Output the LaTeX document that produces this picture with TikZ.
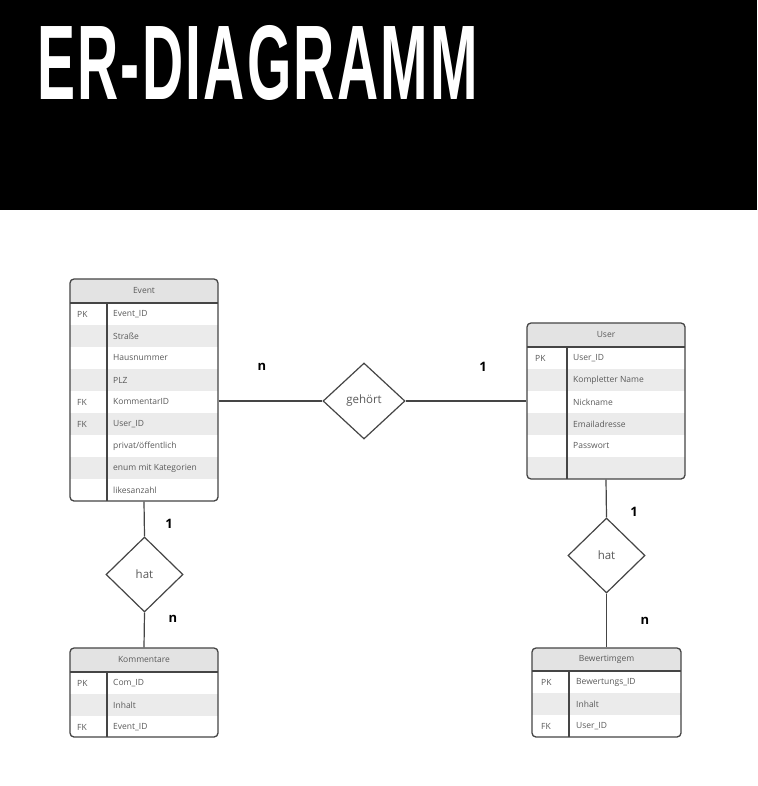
\documentclass[tikz,border=0pt]{standalone}
\usepackage{fontspec}
\setmainfont{Open Sans}
\newfontfamily\titlefont[LetterSpace=4]{Liberation Sans}
\usepackage{graphicx}
\usepackage{xcolor}
\usetikzlibrary{shapes.geometric}

\definecolor{linegray}{HTML}{454545}
\definecolor{headgray}{HTML}{E3E3E3}
\definecolor{rowgray}{HTML}{EBEBEB}
\definecolor{textgray}{HTML}{5A5A5A}

\tikzset{
  tablebox/.style={draw=linegray, line width=1.3, rounded corners=4, inner sep=0},
  tabline/.style={linegray, line width=1.3},
  headtext/.style={text=textgray, font=\fontsize{8.5}{10}\selectfont, inner sep=0},
  celltext/.style={anchor=west, text=textgray, font=\fontsize{8.5}{10}\selectfont, inner sep=0},
  relation/.style={diamond, draw=linegray, line width=1.2, text=textgray, font=\fontsize{11.5}{13}\selectfont, inner sep=0},
  conn/.style={linegray, line width=1.2},
  card/.style={font=\bfseries\fontsize{13}{15}\selectfont, inner sep=0}
}

\begin{document}
\begin{tikzpicture}[x=1pt,y=-1pt]
        \useasboundingbox (0,0) rectangle (757,786);
        \fill[white] (0,0) rectangle (757,786);

        % title band
        \fill[black] (0,0) rectangle (757,210);
        \node[anchor=south west, inner sep=0, text=white] (title) at (37,101)
            {\resizebox{441pt}{74pt}{\titlefont\bfseries ER-DIAGRAMM}};

        % Event
        \begin{scope}
            \clip[rounded corners=4] (70,279) rectangle (218,501);
            \fill[headgray] (70,279) rectangle (218,303);
            \foreach \r in {1,3,5,7}
                \fill[rowgray] (70,303+22*\r) rectangle (218,325+22*\r);
        \end{scope}
        \node[tablebox, minimum width=148, minimum height=222] (event) at (144,390) {};
        \draw[tabline] (70,303) -- (218,303);
        \draw[tabline] (107,303) -- (107,501);
        \node[headtext] (event-head) at (144,291) {Event};
        \foreach \k/\f [count=\i] in {PK/Event\_ID, /Straße, /Hausnummer, /PLZ,
            FK/KommentarID, FK/User\_ID, /{privat/öffentlich},
            /enum mit Kategorien, /likesanzahl}
        {
            \node[celltext] (event-k\i) at (77,292+22*\i) {\k};
            \node[celltext] (event-f\i) at (113,292+22*\i) {\f};
        }

        % User
        \begin{scope}
            \clip[rounded corners=4] (527,323) rectangle (685,479);
            \fill[headgray] (527,323) rectangle (685,347);
            \foreach \r in {1,3,5}
                \fill[rowgray] (527,347+22*\r) rectangle (685,369+22*\r);
        \end{scope}
        \node[tablebox, minimum width=158, minimum height=156] (user) at (606,401) {};
        \draw[tabline] (527,347) -- (685,347);
        \draw[tabline] (567,347) -- (567,479);
        \node[headtext] (user-head) at (606,335) {User};
        \foreach \k/\f [count=\i] in {PK/User\_ID, /Kompletter Name, /Nickname,
            /Emailadresse, /Passwort, /}
        {
            \node[celltext] (user-k\i) at (535,336+22*\i) {\k};
            \node[celltext] (user-f\i) at (573,336+22*\i) {\f};
        }

        % Kommentare
        \begin{scope}
            \clip[rounded corners=4] (70,648) rectangle (218,737);
            \fill[headgray] (70,648) rectangle (218,672);
            \fill[rowgray] (70,694) rectangle (218,716);
        \end{scope}
        \node[tablebox, minimum width=148, minimum height=89] (komm) at (144,692.5) {};
        \draw[tabline] (70,672) -- (218,672);
        \draw[tabline] (107,672) -- (107,737);
        \node[headtext] (komm-head) at (144,660) {Kommentare};
        \foreach \k/\f [count=\i] in {PK/Com\_ID, /Inhalt, FK/Event\_ID}
        {
            \node[celltext] (komm-k\i) at (77,661+22*\i) {\k};
            \node[celltext] (komm-f\i) at (113,661+22*\i) {\f};
        }

        % Bewertimgem
        \begin{scope}
            \clip[rounded corners=4] (532,648) rectangle (681,737);
            \fill[headgray] (532,648) rectangle (681,671);
            \fill[rowgray] (532,693) rectangle (681,715);
        \end{scope}
        \node[tablebox, minimum width=149, minimum height=89] (bew) at (606.5,692.5) {};
        \draw[tabline] (532,671) -- (681,671);
        \draw[tabline] (569,671) -- (569,737);
        \node[headtext] (bew-head) at (606.5,659) {Bewertimgem};
        \foreach \k/\f [count=\i] in {PK/Bewertungs\_ID, /Inhalt, FK/User\_ID}
        {
            \node[celltext] (bew-k\i) at (541,660+22*\i) {\k};
            \node[celltext] (bew-f\i) at (576,660+22*\i) {\f};
        }

        % relations
        \node[relation, minimum width=82, minimum height=76] (gehoert) at (364,401) {gehört};
        \node[relation, minimum width=77, minimum height=75] (hatK) at (144.5,574.5) {hat};
        \node[relation, minimum width=77, minimum height=75] (hatB) at (606.5,555.5) {hat};

        \draw[conn] (gehoert.west -| event.east) -- (gehoert.west);
        \draw[conn] (gehoert.east) -- (user.west);
        \draw[conn] (event.south) -- (hatK.north);
        \draw[conn] (hatK.south) -- (komm.north);
        \draw[conn] (user.south) -- (hatB.north);
        \draw[conn] (hatB.south) -- (bew.north);

        % cardinalities
        \node[card] (cardGn) at (262,367) {n};
        \node[card] (cardG1) at (483,367) {1};
        \node[card] (cardK1) at (169,524) {1};
        \node[card] (cardKn) at (173,619) {n};
        \node[card] (cardB1) at (634,512) {1};
        \node[card] (cardBn) at (645,621) {n};
    \end{tikzpicture}
\end{document}
